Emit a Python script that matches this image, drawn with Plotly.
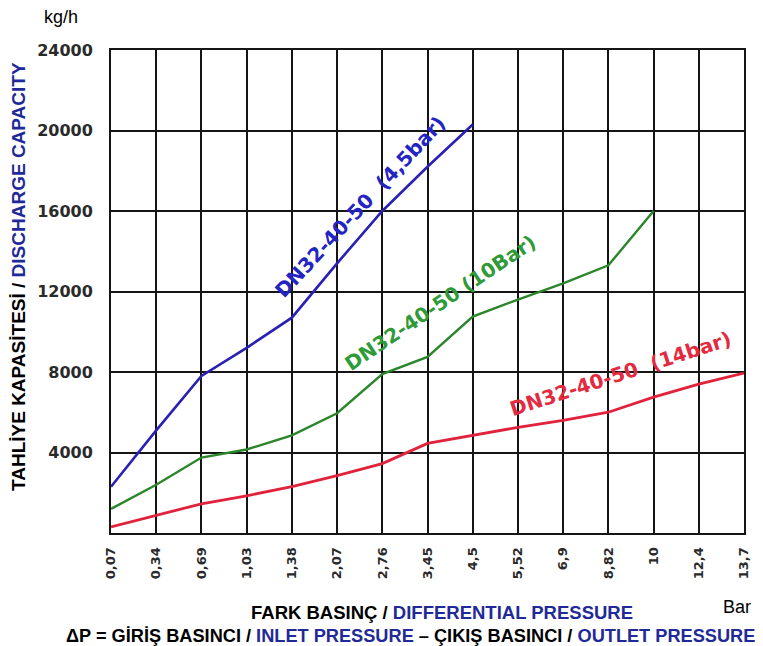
import plotly.graph_objects as go

# ---- data ----
pressure_labels = ["0,07", "0,34", "0,69", "1,03", "1,38", "2,07", "2,76", "3,45",
                   "4,5", "5,52", "6,9", "8,82", "10", "12,4", "13,7"]
blue_45bar = [2300, 5100, 7800, 9200, 10700, 13400, 16000, 18200, 20300]
green_10bar = [1200, 2400, 3750, 4150, 4850, 5950, 7900, 8750, 10750, 11600, 12400, 13300, 16000]
red_14bar = [300, 880, 1450, 1850, 2300, 2850, 3450, 4450, 4850, 5250, 5600, 6000, 6750, 7400, 7950]
y_ticks = [4000, 8000, 12000, 16000, 20000, 24000]

# page has an 8px body margin; target page coordinates below
OFF = 8
PAGE_W, PAGE_H = 763, 646
W, H = PAGE_W - OFF, PAGE_H - OFF
PL, PR, PT, PB = 111, 744, 50, 533          # plot box in page pixels
ML, MT = PL - OFF, PT - OFF
MR, MB = W - (PR - OFF), H - (PB - OFF)

fig = go.Figure()
fig.add_trace(go.Scatter(x=pressure_labels[:len(blue_45bar)], y=blue_45bar, mode="lines",
                         line=dict(color="#2a20b4", width=2.6), showlegend=False))
fig.add_trace(go.Scatter(x=pressure_labels[:len(green_10bar)], y=green_10bar, mode="lines",
                         line=dict(color="#2b862b", width=2.4), showlegend=False))
fig.add_trace(go.Scatter(x=pressure_labels[:len(red_14bar)], y=red_14bar, mode="lines",
                         line=dict(color="#e0223c", width=2.8), showlegend=False))

tickfont_y = dict(family="DejaVu Sans", size=16, color="#2a2a2a")
tickfont_x = dict(family="DejaVu Sans", size=13, color="#2a2a2a")

fig.update_xaxes(type="category", categoryorder="array", categoryarray=pressure_labels,
                 range=[0, len(pressure_labels) - 1],
                 tickvals=pressure_labels, ticktext=["<b>%s</b>" % t for t in pressure_labels],
                 tickangle=-90, tickfont=tickfont_x, ticks="", ticklabelstandoff=7,
                 showgrid=True, gridcolor="#151515", gridwidth=2,
                 showline=True, linecolor="#151515", linewidth=2, mirror=True, zeroline=False)
fig.update_yaxes(range=[0, 24000], tickvals=y_ticks,
                 ticktext=["<b>%d</b>" % v for v in y_ticks],
                 tickfont=tickfont_y, ticks="", ticklabelstandoff=13,
                 showgrid=True, gridcolor="#151515", gridwidth=2,
                 showline=True, linecolor="#151515", linewidth=2, mirror=True, zeroline=False)

NAVY = "#1f2a98"
TF = "Liberation Sans, Arial"
ann = []
def A(text, x, y, size=18, color="black", angle=0, family=TF):
    ann.append(dict(text=text, x=x, y=y, xref="paper", yref="paper", showarrow=False,
                    xanchor="center", yanchor="middle", textangle=angle,
                    font=dict(family=family, size=size, color=color)))

pw, ph = PR - PL, PB - PT
def px(xp): return (xp - PL) / pw
def py(yp): return (PB - yp) / ph

A("<b>DN32-40-50  (4,5bar)</b>", px(360), py(207), size=20, color="#2424c4", angle=-47, family="DejaVu Sans")
A("<b>DN32-40-50 (10Bar)</b>", px(440), py(303), size=20, color="#2e9a38", angle=-34, family="DejaVu Sans")
A("<b>DN32-40-50  (14bar)</b>", px(620), py(374), size=20, color="#e42a40", angle=-18, family="DejaVu Sans")

A("kg/h", px(61), py(17), size=18)
A("<b>TAHLİYE KAPASİTESİ / <span style='color:%s'>DISCHARGE CAPACITY</span></b>" % NAVY,
  px(18), py(277), size=19, angle=-90)
A("<b>FARK BASINÇ / <span style='color:%s'>DIFFERENTIAL PRESSURE</span></b>" % NAVY,
  px(442), py(612), size=18.5)
A("Bar", px(737), py(607), size=18)
A("<b>ΔP = GİRİŞ BASINCI / <span style='color:%s'>INLET PRESSURE</span> – ÇIKIŞ BASINCI / "
  "<span style='color:%s'>OUTLET PRESSURE</span></b>" % (NAVY, NAVY),
  px(410), py(636), size=18.2)

fig.update_layout(width=W, height=H, margin=dict(l=ML, r=MR, t=MT, b=MB, autoexpand=False),
                  paper_bgcolor="white", plot_bgcolor="white", annotations=ann,
                  showlegend=False)
fig.write_html("out.html")
